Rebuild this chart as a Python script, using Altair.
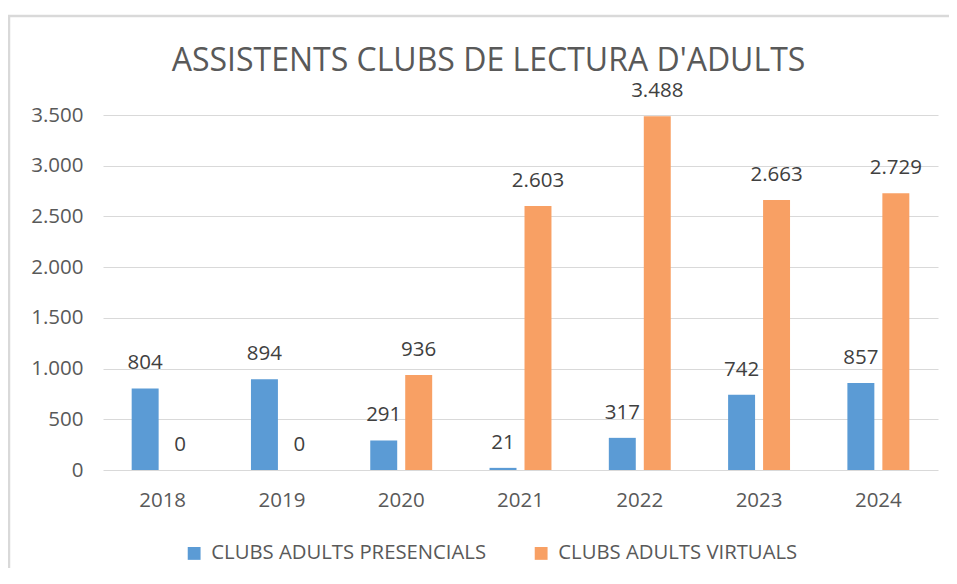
import altair as alt
import pandas as pd

years = ["2018", "2019", "2020", "2021", "2022", "2023", "2024"]
presencials = [804, 894, 291, 21, 317, 742, 857]
virtuals = [0, 0, 936, 2603, 3488, 2663, 2729]
series_names = ["CLUBS ADULTS PRESENCIALS", "CLUBS ADULTS VIRTUALS"]
series_colors = ["#5B9BD5", "#F8A064"]
y_ticks = [0, 500, 1000, 1500, 2000, 2500, 3000, 3500]
title_text = "ASSISTENTS CLUBS DE LECTURA D'ADULTS"

rows = []
for i, yr in enumerate(years):
    rows.append({"year": yr, "serie": series_names[0], "value": presencials[i]})
    rows.append({"year": yr, "serie": series_names[1], "value": virtuals[i]})
df = pd.DataFrame(rows)

FONT = "Open Sans"
W, H = 835, 355
PAD = {"left": 95, "top": 107, "right": 11, "bottom": 98}

x_enc = alt.X(
    "year:N", sort=years,
    scale=alt.Scale(paddingInner=0, paddingOuter=0),
    axis=alt.Axis(title=None, labelAngle=0, domain=False, ticks=False, grid=False,
                  labelPadding=20, labelFontSize=20.5, labelColor="#595959",
                  labelFont=FONT),
)
xoff_enc = alt.XOffset("serie:N", sort=series_names,
                       scale=alt.Scale(paddingInner=0.229, paddingOuter=0.82))
y_enc = alt.Y(
    "value:Q",
    scale=alt.Scale(domain=[0, 3500], nice=False),
    axis=alt.Axis(title=None, values=y_ticks,
                  labelExpr="replace(format(datum.value, ','), ',', '.')",
                  domain=False, ticks=False, gridColor="#d9d9d9", gridWidth=1.2,
                  labelPadding=20, labelFontSize=20.5, labelColor="#595959",
                  labelFont=FONT),
)
color_enc = alt.Color(
    "serie:N", sort=series_names,
    scale=alt.Scale(domain=series_names, range=series_colors),
    legend=alt.Legend(title=None, orient="none", legendX=81, legendY=428,
                      direction="horizontal", symbolType="square", symbolSize=165,
                      symbolStrokeWidth=0, labelFontSize=20.3, labelColor="#595959",
                      labelFont=FONT, columnPadding=44, labelOffset=7, labelLimit=0),
)

bars = alt.Chart(df).mark_bar().encode(x=x_enc, xOffset=xoff_enc, y=y_enc, color=color_enc)

labels = alt.Chart(df).transform_calculate(
    label="replace(format(datum.value, ','), ',', '.')"
).mark_text(baseline="middle", dy=-25, fontSize=20.5, color="#404040", font=FONT).encode(
    x=x_enc, xOffset=xoff_enc, y=y_enc, text="label:N"
)

frame_df = pd.DataFrame({"k": [0]})
frame_left = alt.Chart(frame_df).mark_rule(color="#d9d9d9", strokeWidth=2.5).encode(
    x=alt.value(-94), y=alt.value(-99), y2=alt.value(470)
)
frame_top = alt.Chart(frame_df).mark_rule(color="#d9d9d9", strokeWidth=2.5).encode(
    x=alt.value(-95), x2=alt.value(W + 20), y=alt.value(-99)
)

chart = alt.layer(frame_left, frame_top, bars, labels).properties(
    width=W, height=H, autosize="none", padding=PAD,
    title=alt.Title(title_text, fontSize=32, font=FONT, fontWeight="normal",
                    color="#595959", anchor="middle", frame="group", dx=-32,
                    baseline="alphabetic", offset=-88),
).configure_view(stroke=None)

chart.save("out.html", embed_options={"renderer": "svg", "actions": False})
